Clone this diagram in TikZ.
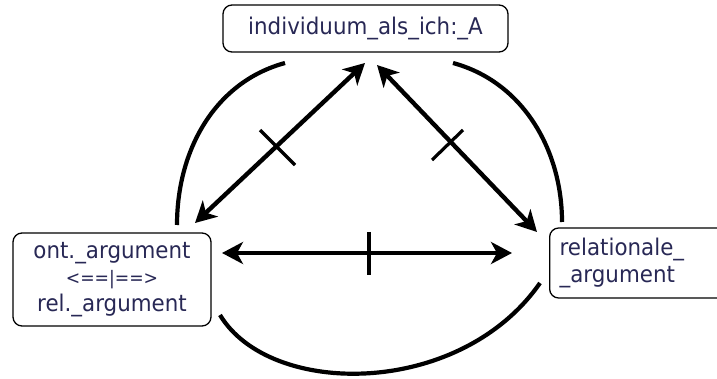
\documentclass[tikz,border=0pt]{standalone}
\usepackage{fontspec}
\setmainfont[FakeStretch=0.93]{DejaVu Sans}
\usetikzlibrary{arrows.meta}
\definecolor{txt}{RGB}{40,40,85}
\tikzset{
  box/.style={draw=black, line width=1.3pt, rounded corners=9pt, fill=white,
    text=txt, font=\fontsize{23}{27.5}\selectfont, inner sep=0pt},
  conn/.style={line width=4.4pt, {Stealth[length=21pt,width=22pt,inset=6pt]}-{Stealth[length=21pt,width=22pt,inset=6pt]}},
  tickmark/.style={line width=3.2pt},
  arcline/.style={line width=4.2pt}
}
\begin{document}
\begin{tikzpicture}[x=1pt,y=-1pt]
\useasboundingbox (0,0) rectangle (717,379);
\fill[white] (0,0) rectangle (717,379);

\node[box, minimum width=285, minimum height=47] (top) at (365.5,28.5) {individuum\_als\_ich:\_A};
\node[box, minimum width=198, minimum height=93, align=center] (left) at (112,279.5)
  {ont.\_argument\\[-1pt]{\fontsize{18.5}{20}\selectfont <==|==>}\\[-1pt]rel.\_argument};
\node[box, minimum width=181, minimum height=70, anchor=west, align=left, text width=161pt, inner xsep=10pt] (right) at (549,263)
  {relationale\_\\\_argument};

% arrow end points
\coordinate (a1s) at (195,223); \coordinate (a1e) at (365,63);
\coordinate (a2s) at (377,65);  \coordinate (a2e) at (537,232);
\coordinate (a3s) at (222,253); \coordinate (a3e) at (512,253);
\draw[conn] (a1s) -- (a1e);
\draw[conn] (a2s) -- (a2e);
\draw[conn] (a3s) -- (a3e);

% tick marks
\coordinate (t1a) at (260,130); \coordinate (t1b) at (295,165);
\coordinate (t2a) at (463,130); \coordinate (t2b) at (432,160);
\coordinate (t3a) at (369,232); \coordinate (t3b) at (369,275);
\draw[tickmark] (t1a) -- (t1b);
\draw[tickmark] (t2a) -- (t2b);
\draw[tickmark] (t3a) -- (t3b);

% arcs
\coordinate (l1) at (285,63); \coordinate (l2) at (177,225);
\coordinate (r1) at (453,63); \coordinate (r2) at (562,222);
\coordinate (b1) at (220,315); \coordinate (b2) at (540,283);
\draw[arcline] (l1) .. controls (215,82) and (177,150) .. (l2);
\draw[arcline] (r1) .. controls (523,82) and (562,150) .. (r2);
\draw[arcline] (b1) .. controls (270,398) and (460,398) .. (b2);
\end{tikzpicture}
\end{document}
